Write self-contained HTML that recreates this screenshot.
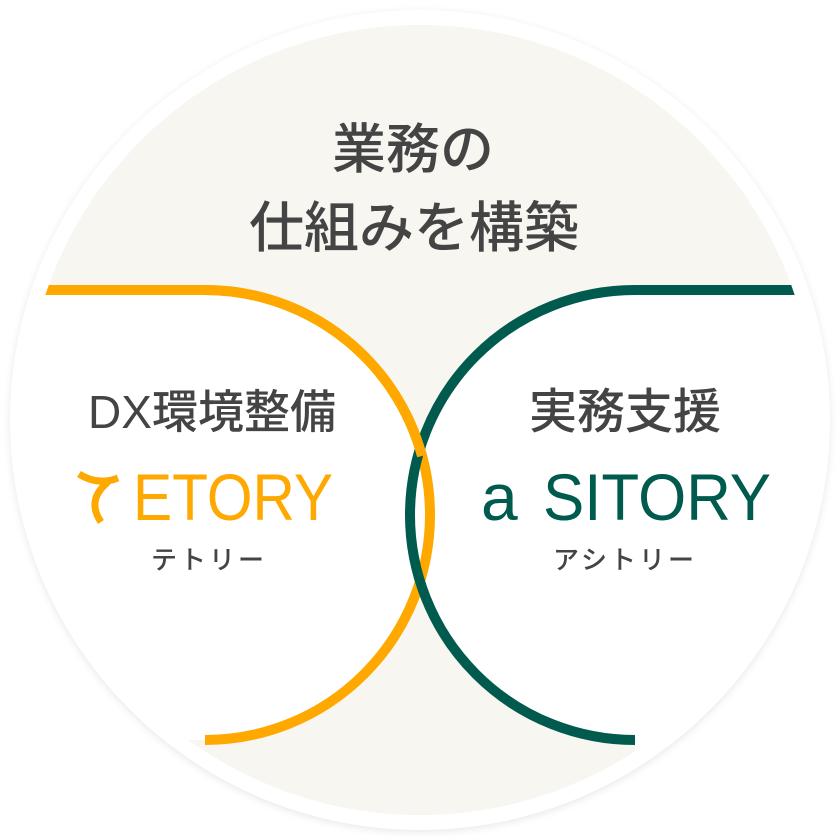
<!DOCTYPE html>
<html><head><meta charset="utf-8"><style>
body{margin:0;background:#fff;}
svg{display:block}
text{font-family:"Liberation Sans","Noto Sans CJK JP",sans-serif;}
</style></head><body>
<svg width="840" height="840" viewBox="0 0 840 840">
<defs>
<filter id="sh" x="-10%" y="-10%" width="120%" height="120%"><feGaussianBlur stdDeviation="4"/></filter>
<clipPath id="cc"><circle cx="420" cy="420" r="395"/></clipPath>
</defs>
<circle cx="420" cy="422" r="410" fill="#e8e8e8" filter="url(#sh)"/>
<circle cx="420" cy="420" r="410" fill="#fff"/>
<circle cx="420" cy="420" r="395" fill="#f7f6f0"/>
<g clip-path="url(#cc)">
<path d="M0 290 H205 A225 225 0 0 1 205 740 H0 Z" fill="#fff"/>
<path d="M840 290 H635 A225 225 0 0 0 635 740 V840 H840 Z" fill="#fff"/>
<path d="M0 290 H205 A225 225 0 0 1 205 740" fill="none" stroke="#ffa800" stroke-width="10"/>
<path d="M840 290 H635 A225 225 0 0 0 635 740" fill="none" stroke="#005a4e" stroke-width="10"/>
<path d="M205 290 A225 225 0 0 1 422 456" fill="none" stroke="#ffa800" stroke-width="10"/>
</g>
<g fill="#444" text-anchor="middle" font-weight="500">
<text x="413" y="168" font-size="54">業務の</text>
<text x="414" y="247" font-size="55">仕組みを構築</text>
<text x="212" y="428" font-size="46">DX環境整備</text>
<text x="625" y="428" font-size="48">実務支援</text>
<text x="209" y="569" font-size="26" letter-spacing="3">テトリー</text>
<text x="625" y="569" font-size="26" letter-spacing="3">アシトリー</text>
</g>
<text x="133" y="520" font-size="66" fill="#ffa800" textLength="200" lengthAdjust="spacingAndGlyphs">ETORY</text>
<path d="M79 474 Q98 486 118 478" fill="none" stroke="#ffa800" stroke-width="7"/>
<path d="M108 482 Q86 500 101 522" fill="none" stroke="#ffa800" stroke-width="7"/>
<text x="543" y="520" font-size="66" fill="#005a4e" textLength="228" lengthAdjust="spacingAndGlyphs">SITORY</text>
<text x="481" y="520" font-size="66" fill="#005a4e">a</text>
</svg>
</body></html>
